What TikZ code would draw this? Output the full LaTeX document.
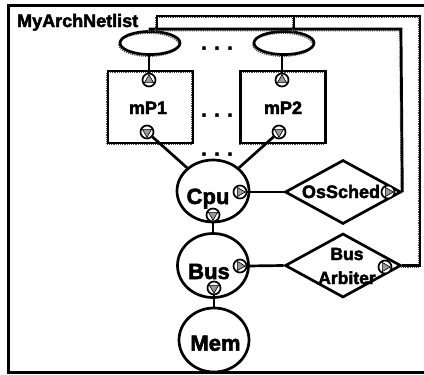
\documentclass[tikz,border=0pt]{standalone}
\usepackage{fontspec}
\setmainfont{Liberation Sans}[BoldFeatures={FakeBold=2.5}]
\usetikzlibrary{shapes.geometric}
\tikzset{
  fringe/.style={preaction={draw=black!70, densely dotted, line width=1.2pt,
      transform canvas={shift={(-1.2pt,-1.8pt)}}}},
  ln/.style={line width=2.7pt},
  wire/.style={ln, fringe},
  frame/.style={draw, line width=3pt, inner sep=0},
  hole/.style={ellipse, draw, ln, fringe, minimum width=60pt, minimum height=23pt, inner sep=0},
  core/.style={rectangle, draw, ln, fringe, minimum width=85pt, minimum height=72pt, inner sep=0},
  blob/.style={ellipse, draw, ln, inner sep=0},
  choice/.style={diamond, draw, ln, inner sep=0, minimum width=116pt, minimum height=64pt},
  port/.style={circle, draw, line width=1.7pt, fill=white, minimum size=13pt, inner sep=0},
  tri/.style={regular polygon, regular polygon sides=3, draw, line width=0.6pt,
      fill=black!40, minimum size=10.5pt, inner sep=0},
  lbl/.style={font=\bfseries\fontsize{#1}{#1}\selectfont, inner sep=0, anchor=base},
}
\begin{document}
\begin{tikzpicture}[x=1pt, y=-1pt]
\useasboundingbox (0,0) rectangle (424,375);
\clip (0,0) rectangle (424,375);

% outer netlist frame and its name
\node[frame, minimum width=422pt, minimum height=367pt] (net) at (219,188.5) {};
\node[lbl=18, anchor=base west] (title) at (17,27) {MyArchNetlist};

% task ellipses and processor boxes
\node[hole] (e1) at (150,43) {};
\node[hole] (e2) at (284,43) {};
\node[core] (p1) at (150.5,107) {};
\node[core] (p2) at (283,107) {};
\node[lbl=18] (p1t-txt) at (148,114) {mP1};
\node[lbl=18] (p2t-txt) at (283,114) {mP2};

% ellipsis marks
\node[lbl=20] (dots1) at (217,49.5) {. . .};
\node[lbl=20] (dots2) at (217,116.5) {. . .};
\node[lbl=20] (dots3) at (217,155.5) {. . .};

% central resources
\node[blob, minimum width=72pt, minimum height=62pt] (cpu) at (213,191) {};
\node[blob, minimum width=71pt, minimum height=64pt] (bus) at (213,265.5) {};
\node[blob, minimum width=70pt, minimum height=64pt] (mem) at (214,340) {};
\node[lbl=22] (cpu-txt) at (208,204) {Cpu};
\node[lbl=22] (bus-txt) at (209,279) {Bus};
\node[lbl=22] (mem-txt) at (215.5,350.7) {Mem};

% schedulers
\node[choice] (os) at (343,192) {};
\node[choice] (ba) at (343,265.5) {};
\node[lbl=18] (os-txt) at (341,198) {OsSched};
\node[lbl=17.5] (ba-txt1) at (347,260) {Bus};
\node[lbl=17.5] (ba-txt2) at (347,284) {Arbiter};

% ports
\node[port] (p1t) at (149,80) {};
\node[port] (p1b) at (147,132) {};
\node[port] (p2t) at (282,80) {};
\node[port] (p2b) at (279,132) {};
\node[port] (cpr) at (240,192) {};
\node[port] (cpb) at (213,215) {};
\node[port] (bsr) at (240,266) {};
\node[port] (bsb) at (214,288) {};
\node[port] (osp) at (388,192) {};
\node[port] (bap) at (385,267) {};

\node[tri] (p1t-tri) at (p1t) {};
\node[tri] (p2t-tri) at (p2t) {};
\node[tri, rotate=180] (p1b-tri) at (p1b) {};
\node[tri, rotate=180] (p2b-tri) at (p2b) {};
\node[tri, rotate=180] (cpb-tri) at (cpb) {};
\node[tri, rotate=180] (bsb-tri) at (bsb) {};
\node[tri, rotate=-90] (cpr-tri) at (cpr) {};
\node[tri, rotate=-90] (bsr-tri) at (bsr) {};
\node[tri, rotate=-90] (osp-tri) at (osp) {};
\node[tri, rotate=-90] (bap-tri) at (bap) {};

% connections
\draw[ln] (p1t.north) -- (p1t.north |- e1.south);
\draw[ln] (p2t.north) -- (p2t.north |- e2.south);
\draw[ln] (p1b) -- (cpu);
\draw[ln] (p2b) -- (cpu);
\draw[ln] (cpr.east) -- (os.west);
\draw[ln] (bsr.east) -- (ba.west);
\draw[ln] (cpb.south) -- (cpb.south |- bus.north);
\draw[ln] (bsb.south) -- (bsb.south |- mem.north);

% scheduling wires
\coordinate (tr) at (420,16);
\coordinate (ir) at (401,29);
\draw[wire] (e1.north) |- (ir) -- (os.east);
\draw[wire] ([xshift=7pt]e1.north) |- (tr) |- (ba.east);
\draw[wire] ([xshift=10pt]e2.north) -- ([xshift=10pt]e2.north |- tr);
\end{tikzpicture}
\end{document}
